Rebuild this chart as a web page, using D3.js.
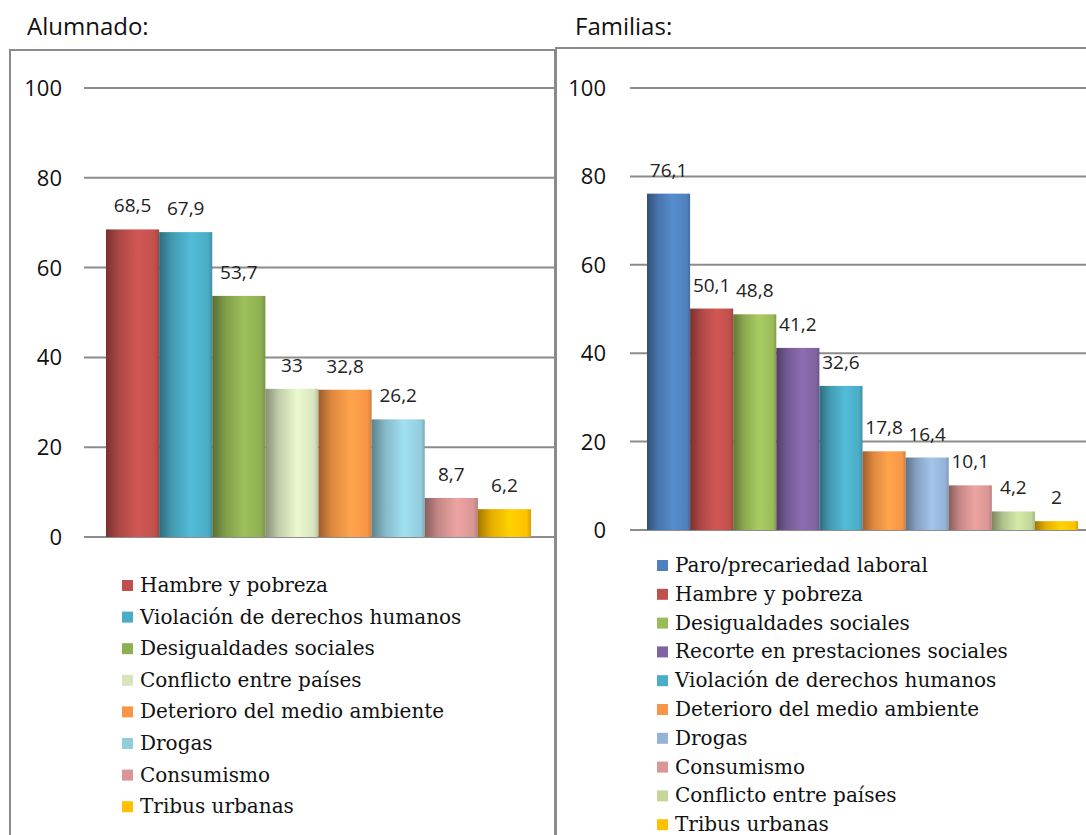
<!DOCTYPE html>
<meta charset="utf-8">
<style>
body { margin: 0; background: #fff; }
svg { display: block; }
.title { font: 24px "Open Sans", sans-serif; fill: #111; }
.tick-label { font: 22px "Open Sans", sans-serif; fill: #111; }
.val { font: 19px "Open Sans", sans-serif; fill: #222; }
.leg { font: 20px "DejaVu Serif", serif; fill: #111; }
</style>
<body>
<div id="chart"></div>
<script src="https://cdn.jsdelivr.net/npm/d3@7"></script>
<script>
// ---- data ----
var alumnadoCats = ["Hambre y pobreza", "Violación de derechos humanos", "Desigualdades sociales",
  "Conflicto entre países", "Deterioro del medio ambiente", "Drogas", "Consumismo", "Tribus urbanas"];
var alumnadoVals = [68.5, 67.9, 53.7, 33, 32.8, 26.2, 8.7, 6.2];
var alumnadoColors = ["#C0504D", "#4BACC6", "#8FB052", "#D7E4BD", "#F79646", "#93CDDD", "#D99694", "#FFC000"];

var familiasCats = ["Paro/precariedad laboral", "Hambre y pobreza", "Desigualdades sociales",
  "Recorte en prestaciones sociales", "Violación de derechos humanos", "Deterioro del medio ambiente",
  "Drogas", "Consumismo", "Conflicto entre países", "Tribus urbanas"];
var familiasVals = [76.1, 50.1, 48.8, 41.2, 32.6, 17.8, 16.4, 10.1, 4.2, 2];
var familiasColors = ["#4F81BD", "#C0504D", "#9BBB59", "#8064A2", "#4BACC6", "#F79646", "#95B3D7", "#D99694", "#C3D69B", "#FFC000"];

var yTicks = [0, 20, 40, 60, 80, 100];

var W = 1086, H = 835;
var svg = d3.select("#chart").append("svg").attr("width", W).attr("height", H);
var defs = svg.append("defs");

function fmt(v) { return String(v).replace(".", ","); }

function panel(cfg) {
  var g = svg.append("g");
  // frame
  g.append("rect")
    .attr("x", cfg.frame[0]).attr("y", cfg.frame[1])
    .attr("width", cfg.frame[2]).attr("height", cfg.frame[3])
    .attr("fill", "none").attr("stroke", "#8a8a8a").attr("stroke-width", 2);
  g.append("text").attr("class", "title")
    .attr("x", cfg.titleX).attr("y", 35).text(cfg.title);

  var y = d3.scaleLinear().domain([0, 100]).range([cfg.y0, cfg.y100]);
  var x = d3.scaleBand().domain(cfg.cats).range([cfg.barX0, cfg.barX1]).padding(0);

  // gridlines
  g.selectAll(".grid").data(yTicks).enter().append("line")
    .attr("x1", cfg.gridX0).attr("x2", cfg.gridX1)
    .attr("y1", function(d) { return y(d); }).attr("y2", function(d) { return y(d); })
    .attr("stroke", "#8c8c8c").attr("stroke-width", 2);
  g.selectAll(".tick-label").data(yTicks).enter().append("text")
    .attr("class", "tick-label")
    .attr("x", cfg.tickX).attr("y", function(d) { return y(d) + 8; })
    .attr("text-anchor", "end").text(function(d) { return d; });

  // gradients
  cfg.colors.forEach(function(c, i) {
    var lg = defs.append("linearGradient").attr("id", cfg.id + "g" + i)
      .attr("x1", "0%").attr("x2", "100%").attr("y1", "0%").attr("y2", "0%");
    var base = d3.color(c);
    lg.append("stop").attr("offset", "0%").attr("stop-color", base.darker(1.3));
    lg.append("stop").attr("offset", "25%").attr("stop-color", base.darker(0.3));
    lg.append("stop").attr("offset", "60%").attr("stop-color", base.brighter(0.25));
    lg.append("stop").attr("offset", "92%").attr("stop-color", base);
    lg.append("stop").attr("offset", "100%").attr("stop-color", base.darker(0.5));
  });

  g.selectAll(".bar").data(cfg.vals).enter().append("rect")
    .attr("x", function(d, i) { return x(cfg.cats[i]); })
    .attr("y", function(d) { return y(d); })
    .attr("width", x.bandwidth())
    .attr("height", function(d) { return y(0) - y(d); })
    .attr("fill", function(d, i) { return "url(#" + cfg.id + "g" + i + ")"; });

  g.selectAll(".val").data(cfg.vals).enter().append("text")
    .attr("class", "val")
    .attr("x", function(d, i) { return x(cfg.cats[i]) + x.bandwidth() / 2; })
    .attr("y", function(d) { return y(d) - 17; })
    .attr("text-anchor", "middle").text(fmt);

  // legend
  var leg = g.selectAll(".legrow").data(cfg.cats).enter().append("g")
    .attr("transform", function(d, i) { return "translate(" + cfg.legX + "," + (cfg.legY + i * cfg.legStep) + ")"; });
  leg.append("rect").attr("x", 0).attr("y", -12).attr("width", 11).attr("height", 11)
    .attr("fill", function(d, i) { return cfg.colors[i]; });
  leg.append("text").attr("class", "leg").attr("x", 18).attr("y", 0).text(function(d) { return d; });
}

panel({
  id: "a", title: "Alumnado:", titleX: 27,
  frame: [10, 50, 545, 800],
  cats: alumnadoCats, vals: alumnadoVals, colors: alumnadoColors,
  y0: 537, y100: 88, barX0: 106, barX1: 531,
  gridX0: 84, gridX1: 554, tickX: 62,
  legX: 122, legY: 592, legStep: 31.6
});

panel({
  id: "f", title: "Familias:", titleX: 575,
  frame: [556, 48, 600, 800],
  cats: familiasCats, vals: familiasVals, colors: familiasColors,
  y0: 530, y100: 88, barX0: 647, barX1: 1078,
  gridX0: 630, gridX1: 1086, tickX: 606,
  legX: 657, legY: 572, legStep: 28.8
});
</script>
</body>
